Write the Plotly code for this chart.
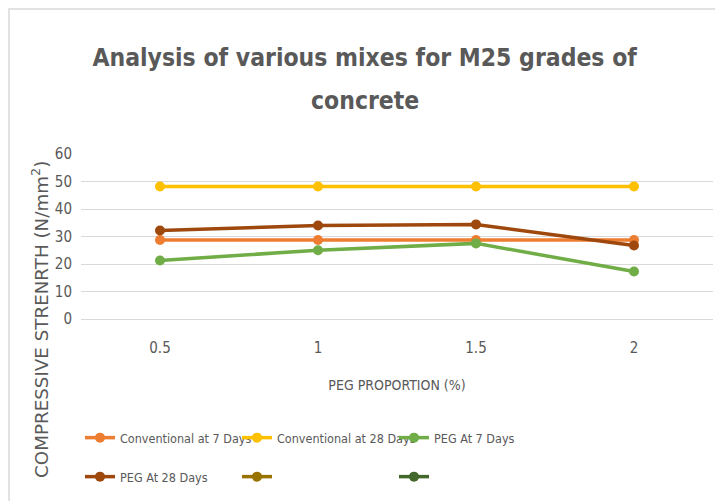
import plotly.graph_objects as go

categories = ["0.5", "1", "1.5", "2"]
conv_7 = [28.7, 28.7, 28.7, 28.7]
conv_28 = [48.2, 48.2, 48.2, 48.2]
peg_7 = [21.3, 25.0, 27.5, 17.3]
peg_28 = [32.2, 34.0, 34.4, 26.7]
y_ticks = [0, 10, 20, 30, 40, 50, 60]
title_lines = ["Analysis of various mixes for M25 grades of", "concrete"]

FONT = "DejaVu Sans Condensed"
GRAY = "#595959"

W, H = 715, 501
L, R, T, B = 81, 2, 154, 182
plot_h = H - T - B
plot_w = W - L - R

def py(px):
    return (H - B - px) / plot_h

def pxx(px):
    return (px - L) / plot_w

fig = go.Figure()
row1 = [("Conventional at 7 Days", conv_7, "#ED7D31"),
        ("Conventional at 28 Days", conv_28, "#FFC000"),
        ("PEG At 7 Days", peg_7, "#70AD47")]
for name, vals, col in row1:
    fig.add_trace(go.Scatter(x=categories, y=vals, name=name, mode="lines+markers",
                             line=dict(color=col, width=3.5), marker=dict(size=10, color=col),
                             legend="legend"))
fig.add_trace(go.Scatter(x=categories, y=peg_28, name="PEG At 28 Days", mode="lines+markers",
                         line=dict(color="#9E480E", width=3.5), marker=dict(size=10, color="#9E480E"),
                         legend="legend2"))
for col in ["#997300", "#43682B"]:
    fig.add_trace(go.Scatter(x=[None], y=[None], name="\u00a0", mode="lines+markers",
                             line=dict(color=col, width=3.5), marker=dict(size=10, color=col),
                             legend="legend2"))

leg_common = dict(orientation="h", xanchor="left", yanchor="middle",
                  font=dict(family=FONT, size=12.5, color=GRAY),
                  entrywidth=112, itemwidth=30, bgcolor="rgba(0,0,0,0)")

fig.update_layout(
    width=W, height=H,
    margin=dict(l=L, r=R, t=T, b=B),
    paper_bgcolor="white", plot_bgcolor="white",
    title=dict(text=title_lines[0],
               x=0.51, xanchor="center", y=(H - 57) / H, yanchor="middle",
               font=dict(family=FONT, size=24.5, color=GRAY, weight="bold")),
    legend=dict(x=pxx(80), y=py(438), **leg_common),
    legend2=dict(x=pxx(80), y=py(477), **leg_common),
    xaxis=dict(type="category", range=[-0.5, 3.5], showgrid=False, showline=False,
               ticks="", tickfont=dict(family=FONT, size=15, color=GRAY),
               ticklabelstandoff=18,
               title=dict(text="PEG PROPORTION (%)", standoff=24,
                          font=dict(family=FONT, size=14, color=GRAY))),
    yaxis=dict(range=[0, 60], tickvals=y_ticks, showgrid=True, gridcolor="#D9D9D9",
               gridwidth=1, zeroline=True, zerolinecolor="#D9D9D9", zerolinewidth=1,
               showline=False, ticks="", tickfont=dict(family=FONT, size=15, color=GRAY),
               ticklabelstandoff=8),
    showlegend=True,
)

fig.add_annotation(text=title_lines[1], xref="paper", yref="paper",
                   x=pxx(365), y=py(101), xanchor="center", yanchor="middle",
                   showarrow=False,
                   font=dict(family=FONT, size=24.5, color=GRAY, weight="bold"))

fig.add_annotation(text="COMPRESSIVE STRENRTH (N/mm<sup>2</sup>)", textangle=-90,
                   xref="paper", yref="paper", x=pxx(40), y=py(320),
                   xanchor="center", yanchor="middle", showarrow=False,
                   font=dict(family="DejaVu Sans", size=18.3, color=GRAY))

fig.add_shape(type="rect", xref="paper", yref="paper",
              x0=pxx(9), y0=py(520), x1=pxx(740), y1=py(9),
              line=dict(color="#D9D9D9", width=1.5), fillcolor="rgba(0,0,0,0)", layer="below")

fig.write_html("out.html", post_script="document.body.style.margin='0';",
               config={"displayModeBar": False})
